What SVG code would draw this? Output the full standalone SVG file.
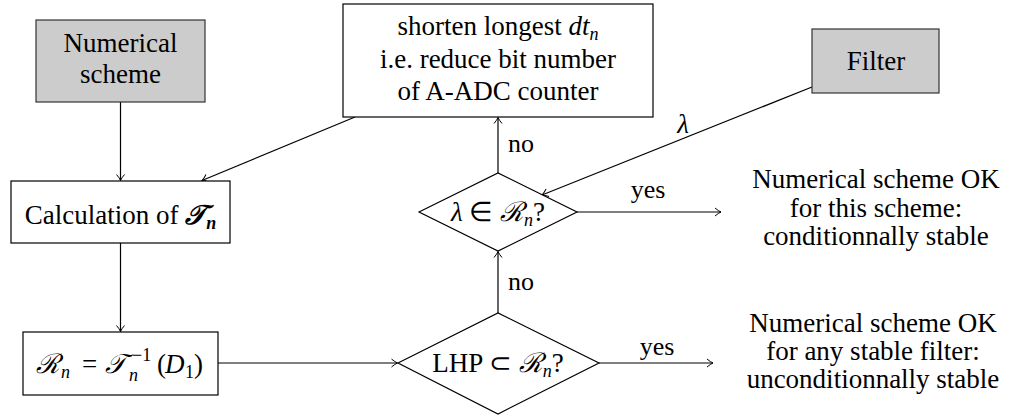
<svg xmlns="http://www.w3.org/2000/svg" width="1020" height="417" viewBox="0 0 1020 417">
<defs>
<marker id="arr" markerUnits="userSpaceOnUse" markerWidth="12" markerHeight="12" viewBox="-8 -6 10 12" refX="0" refY="0" orient="auto">
<path d="M-6,-4 Q-2.5,-1 0,0 Q-2.5,1 -6,4" fill="none" stroke="#000" stroke-width="1"/>
</marker>
</defs>
<rect width="1020" height="417" fill="#fff"/>
<g font-size="27" fill="#000" text-anchor="middle">
<g id="connectors">
<g fill="none" stroke="#000" stroke-width="1.2" marker-end="url(#arr)">
<line x1="120.5" y1="102" x2="120.5" y2="180.5"/>
<line x1="355" y1="117" x2="202" y2="180.5"/>
<line x1="120.5" y1="243" x2="120.5" y2="331.5"/>
<line x1="218" y1="363" x2="397.5" y2="363"/>
<line x1="599" y1="363" x2="713" y2="363"/>
<line x1="498" y1="313" x2="498" y2="251.5"/>
<line x1="498" y1="173" x2="498" y2="117.5"/>
<line x1="812" y1="87" x2="542" y2="195"/>
<line x1="577" y1="212" x2="721" y2="212"/>
</g>
<text x="657" y="355" font-family="Liberation Serif" font-size="26">yes</text>
<text x="521" y="290" font-family="Liberation Serif" font-size="26">no</text>
<text x="521" y="152" font-family="Liberation Serif" font-size="26">no</text>
<text x="648" y="198" font-family="Liberation Serif" font-size="26">yes</text>
<text x="683" y="133" font-family="Liberation Serif" font-style="italic">λ</text>
</g>
<g id="numerical-scheme">
<rect x="36" y="20" width="169" height="82" fill="#cccccc" stroke="#333" stroke-width="1.2"/>
<text x="120.5" y="52" font-family="Liberation Serif">Numerical</text>
<text x="120.5" y="83" font-family="Liberation Serif">scheme</text>
</g>
<g id="calculation">
<rect x="11" y="181" width="219" height="62" fill="#fff" stroke="#000" stroke-width="1.2"/>
<text x="120.5" y="224" font-family="Liberation Serif">Calculation of <tspan font-style="italic" font-weight="bold">𝒯</tspan><tspan font-style="italic" font-weight="bold" font-size="18" dy="5">n</tspan></text>
</g>
<g id="region" text-anchor="start">
<rect x="23" y="332" width="195" height="63" fill="#fff" stroke="#000" stroke-width="1.2"/>
<text x="36" y="373" font-family="Liberation Serif" font-style="italic">ℛ</text>
<text x="61" y="378" font-family="Liberation Serif" font-style="italic" font-size="18">n</text>
<text x="82" y="373" font-family="Liberation Serif">=</text>
<text x="105" y="373" font-family="Liberation Serif" font-style="italic">𝒯</text>
<text x="132" y="361" font-family="Liberation Serif" font-size="18">−1</text>
<text x="129" y="381" font-family="Liberation Serif" font-style="italic" font-size="18">n</text>
<text x="157" y="373" font-family="Liberation Serif">(</text>
<text x="165" y="373" font-family="Liberation Serif" font-style="italic">D</text>
<text x="185" y="378" font-family="Liberation Serif" font-size="18">1</text>
<text x="194" y="373" font-family="Liberation Serif">)</text>
</g>
<g id="shorten">
<rect x="343" y="4" width="310" height="113" fill="#fff" stroke="#000" stroke-width="1.2"/>
<text x="498" y="35" font-family="Liberation Serif">shorten longest <tspan font-style="italic">dt</tspan><tspan font-style="italic" font-size="18" dy="5">n</tspan></text>
<text x="498" y="68" font-family="Liberation Serif">i.e. reduce bit number</text>
<text x="498" y="100" font-family="Liberation Serif">of A-ADC counter</text>
</g>
<g id="filter">
<rect x="812" y="29" width="127" height="64" fill="#cccccc" stroke="#333" stroke-width="1.2"/>
<text x="876" y="70" font-family="Liberation Serif">Filter</text>
</g>
<g id="lambda-test">
<polygon points="419,212 498,173 577,212 498,251" fill="#fff" stroke="#000" stroke-width="1.2"/>
<text x="498" y="221" font-family="Liberation Serif"><tspan font-style="italic">λ</tspan> ∈ <tspan font-style="italic">ℛ</tspan><tspan font-style="italic" font-size="18" dy="5">n</tspan><tspan dy="-5">?</tspan></text>
</g>
<g id="lhp-test">
<polygon points="398,363 498,313 599,363 498,414" fill="#fff" stroke="#000" stroke-width="1.2"/>
<text x="498" y="372" font-family="Liberation Serif">LHP ⊂ <tspan font-style="italic">ℛ</tspan><tspan font-style="italic" font-size="18" dy="5">n</tspan><tspan dy="-5">?</tspan></text>
</g>
<g id="result-conditional">
<text x="876" y="188" font-family="Liberation Serif">Numerical scheme OK</text>
<text x="876" y="217" font-family="Liberation Serif">for this scheme:</text>
<text x="876" y="245" font-family="Liberation Serif">conditionnally stable</text>
</g>
<g id="result-unconditional">
<text x="873" y="332" font-family="Liberation Serif">Numerical scheme OK</text>
<text x="873" y="360" font-family="Liberation Serif">for any stable filter:</text>
<text x="873" y="388" font-family="Liberation Serif">unconditionnally stable</text>
</g>
</g>
</svg>
